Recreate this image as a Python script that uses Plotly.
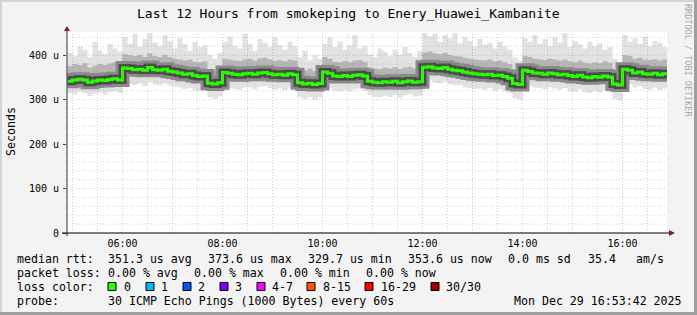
import plotly.graph_objects as go
import pandas as pd

# ---------------- data ----------------
title = "Last 12 Hours from smokeping to Enery_Huawei_Kambanite"
start_time = "2025-12-29 04:54:00"
range_start = "2025-12-29 04:53:24"
range_end = "2025-12-29 16:53:24"
step = "6min"

# median RTT (microseconds), one value per 6-minute step
median = [
    341, 344, 346, 344, 339, 342, 344, 343, 345, 347, 344,
    371, 370, 367, 368, 366, 372, 367, 366, 368, 364, 362, 360, 357, 358, 354, 352, 353,
    337, 335, 338,
    361, 359, 357, 356, 358, 359, 357, 360, 361, 358, 356, 357, 355, 358, 356,
    338, 335, 337, 334, 336,
    362, 359, 353, 352, 354, 352, 355, 356, 353,
    341, 339, 338, 340, 339, 341, 338, 340, 342, 339, 340,
    373, 374, 371, 370, 372, 368, 366, 365, 362, 360, 358, 357, 356, 357, 354, 355, 352, 348,
    336, 334,
    366, 363, 360, 359, 357, 360, 358, 356, 357, 354, 352, 355, 351, 349, 352, 350, 353, 351,
    335, 333,
    368, 366, 360, 362, 358, 357, 359, 356, 358,
]
# smoke: highest ping per step
smoke_max = [
    405, 398, 420, 412, 395, 430, 410, 402, 425, 415, 408,
    440, 425, 448, 418, 436, 450, 428, 420, 445, 432, 415, 438, 425, 410, 430, 418, 422,
    400, 392, 405,
    430, 442, 420, 415, 448, 425, 410, 436, 428, 418, 440, 422, 412, 430, 420,
    395, 410, 388, 400, 392,
    425, 440, 418, 430, 412, 422, 445, 415, 420,
    402, 395, 415, 408, 398, 412, 400, 418, 405, 396, 410,
    450, 442, 448, 430, 445, 438, 450, 426, 440, 432, 418, 436, 424, 428, 415, 430, 420, 412,
    395, 388,
    438, 430, 445, 425, 436, 420, 440, 428, 450, 418, 432, 424, 415, 430, 420, 426, 412, 418,
    392, 385,
    445, 430, 438, 425, 442, 420, 432, 428, 418,
]
# smoke: upper dense part
smoke_hi = [
    375, 380, 378, 382, 372, 376, 380, 378, 381, 384, 378,
    402, 400, 398, 400, 396, 404, 398, 396, 400, 395, 392, 390, 388, 390, 385, 384, 386,
    368, 365, 370,
    392, 390, 388, 387, 390, 392, 388, 393, 394, 390, 387, 389, 386, 390, 388,
    368, 366, 370, 364, 367,
    396, 392, 385, 384, 387, 384, 388, 389, 385,
    372, 370, 369, 372, 370, 373, 369, 372, 374, 370, 371,
    406, 408, 404, 402, 405, 400, 398, 397, 394, 392, 390, 389, 388, 390, 386, 388, 384, 380,
    368, 365,
    398, 396, 392, 391, 389, 392, 390, 388, 390, 386, 384, 388, 383, 381, 384, 382, 386, 383,
    366, 363,
    400, 398, 392, 394, 390, 389, 391, 388, 390,
]
# smoke: lower dense part
smoke_lo = [
    329, 331, 333, 331, 326, 329, 331, 330, 332, 334, 331,
    356, 355, 352, 354, 351, 357, 352, 351, 353, 349, 348, 346, 343, 344, 340, 338, 339,
    323, 321, 324,
    347, 345, 343, 342, 344, 345, 343, 346, 347, 344, 342, 343, 341, 344, 342,
    324, 321, 323, 320, 322,
    348, 345, 339, 338, 340, 338, 341, 342, 339,
    327, 325, 324, 326, 325, 327, 324, 326, 328, 325, 326,
    358, 360, 357, 356, 358, 354, 352, 351, 348, 346, 344, 343, 342, 343, 340, 341, 338, 334,
    322, 320,
    352, 349, 346, 345, 343, 346, 344, 342, 343, 340, 338, 341, 337, 335, 338, 336, 339, 337,
    321, 319,
    354, 352, 346, 348, 344, 343, 345, 342, 344,
]
# smoke: lowest ping per step
smoke_min = [
    315, 312, 318, 314, 308, 313, 316, 311, 317, 319, 314,
    338, 335, 333, 336, 330, 340, 334, 332, 336, 331, 329, 327, 324, 326, 321, 320, 322,
    305, 302, 307,
    330, 326, 324, 322, 327, 328, 323, 329, 330, 326, 322, 325, 321, 327, 323,
    306, 302, 305, 300, 304,
    330, 326, 320, 318, 322, 319, 323, 325, 320,
    310, 306, 305, 309, 306, 311, 304, 309, 312, 307, 308,
    340, 343, 338, 336, 341, 335, 332, 333, 328, 326, 324, 325, 322, 326, 320, 323, 318, 315,
    303, 300,
    335, 330, 327, 326, 323, 328, 325, 322, 326, 320, 318, 323, 317, 315, 320, 316, 321, 318,
    302, 298,
    337, 334, 327, 330, 324, 322, 327, 321, 325,
]

y_tickvals = [0, 100, 200, 300, 400]
y_ticktext = ["0", "100 u", "200 u", "300 u", "400 u"]
x_label_hours = ["06:00", "08:00", "10:00", "12:00", "14:00", "16:00"]

legend_rows = [
    [("median rtt:", 16), ("351.3 us avg", 107), ("373.6 us max", 207), ("329.7 us min", 307),
     ("353.6 us now", 407), ("0.0 ms sd", 507), ("35.4", 587), ("am/s", 635)],
    [("packet loss:", 16), ("0.00 % avg", 107), ("0.00 % max", 193), ("0.00 % min", 279),
     ("0.00 % now", 365)],
    [("loss color:", 16)],
    [("probe:", 16), ("30 ICMP Echo Pings (1000 Bytes) every 60s", 107),
     ("Mon Dec 29 16:53:42 2025", 513)],
]
row_y = [258.5, 273, 286.5, 301]
loss_labels = ["0", "1", "2", "3", "4-7", "8-15", "16-29", "30/30"]
loss_colors = ["#26ff00", "#00b8ff", "#0059ff", "#7e00ff", "#ff00ff", "#ff5500", "#ff0000", "#a10000"]
loss_box_x = [108, 146, 183, 220, 257, 307, 365, 431]
loss_text_x = [123, 160, 197, 234, 271, 322, 380, 445]

# ---------------- figure ----------------
W, H = 697, 315
L, R, T, B = 67, 30, 32, 82
PW, PH = W - L - R, H - T - B
FONT = "DejaVu Sans Mono"


def fx(px):
    return (px - L) / PW


def fy(py):
    return (H - B - py) / PH


times = pd.date_range(start_time, periods=len(median) + 1, freq=step)


def ext(a):
    return list(a) + [a[-1]]


fig = go.Figure()
common = dict(x=times, mode="lines", line_shape="hv", hoverinfo="skip")
fig.add_trace(go.Scatter(y=ext(smoke_min), line=dict(width=0, color="#e6e6e6"), **common))
fig.add_trace(go.Scatter(y=ext(smoke_max), line=dict(width=0, color="#e6e6e6"),
                         fill="tonexty", fillcolor="#e2e2e2", **common))
fig.add_trace(go.Scatter(y=ext(smoke_lo), line=dict(width=0, color="#c0c0c0"), **common))
fig.add_trace(go.Scatter(y=ext(smoke_hi), line=dict(width=0, color="#c0c0c0"),
                         fill="tonexty", fillcolor="#b6b6b6", **common))
fig.add_trace(go.Scatter(y=ext(median), line=dict(width=14, color="#8a8a8a"), **common))
fig.add_trace(go.Scatter(y=ext(median), line=dict(width=8, color="#4a4a4a"), **common))
fig.add_trace(go.Scatter(y=ext(median), line=dict(width=3, color="#26ff00"), **common))

MAJOR = "rgba(222,80,80,0.38)"
MINOR = "rgba(130,130,130,0.35)"
shapes = []
# grid (drawn above the smoke, semi-transparent like rrdtool)
grid_times = pd.date_range("2025-12-29 05:00", "2025-12-29 16:30", freq="30min")
for t in grid_times:
    major = t.minute == 0
    shapes.append(dict(type="line", xref="x", yref="paper", x0=t, x1=t, y0=0, y1=1,
                       layer="above",
                       line=dict(width=1, dash="1px,2px", color=MAJOR if major else MINOR)))
for v in range(20, 452, 20):
    major = v % 100 == 0
    shapes.append(dict(type="line", xref="paper", yref="y", x0=0, x1=1, y0=v, y1=v,
                       layer="above",
                       line=dict(width=1, dash="1px,2px", color=MAJOR if major else MINOR)))
# axes with arrows
shapes.append(dict(type="line", xref="paper", yref="paper", x0=fx(67), x1=fx(67), y0=fy(236), y1=fy(30),
                   line=dict(width=1, color="#333333"), layer="above"))
shapes.append(dict(type="line", xref="paper", yref="paper", x0=fx(62), x1=fx(670), y0=fy(233), y1=fy(233),
                   line=dict(width=1, color="#000000"), layer="above"))
shapes.append(dict(type="path", xref="paper", yref="paper",
                   path=f"M {fx(64)} {fy(31)} L {fx(70)} {fy(31)} L {fx(67)} {fy(26)} Z",
                   fillcolor="#8b1a1a", line=dict(width=0), layer="above"))
shapes.append(dict(type="path", xref="paper", yref="paper",
                   path=f"M {fx(669)} {fy(230)} L {fx(669)} {fy(236)} L {fx(675)} {fy(233)} Z",
                   fillcolor="#8b1a1a", line=dict(width=0), layer="above"))
# canvas border shading
shapes.append(dict(type="rect", xref="paper", yref="paper", x0=fx(0), x1=fx(2), y0=fy(315), y1=fy(0),
                   fillcolor="#d4d4d4", line=dict(width=0)))
shapes.append(dict(type="rect", xref="paper", yref="paper", x0=fx(0), x1=fx(697), y0=fy(2), y1=fy(0),
                   fillcolor="#d4d4d4", line=dict(width=0)))
shapes.append(dict(type="rect", xref="paper", yref="paper", x0=fx(694), x1=fx(697), y0=fy(315), y1=fy(0),
                   fillcolor="#9e9e9e", line=dict(width=0)))
shapes.append(dict(type="rect", xref="paper", yref="paper", x0=fx(0), x1=fx(697), y0=fy(315), y1=fy(312),
                   fillcolor="#9e9e9e", line=dict(width=0)))
# loss color boxes
for bx, c in zip(loss_box_x, loss_colors):
    shapes.append(dict(type="rect", xref="paper", yref="paper", x0=fx(bx), x1=fx(bx + 8),
                       y0=fy(290.5), y1=fy(282.5), fillcolor=c, line=dict(width=1, color="#000000")))

annotations = []
annotations.append(dict(text=title, x=fx(348), y=fy(13.5), xref="paper", yref="paper",
                        xanchor="center", yanchor="middle", showarrow=False,
                        font=dict(family=FONT, size=13, color="#000000")))
annotations.append(dict(text="Seconds", x=fx(10.5), y=fy(131.5), xref="paper", yref="paper",
                        xanchor="center", yanchor="middle", showarrow=False, textangle=-90,
                        font=dict(family=FONT, size=11.6, color="#000000")))
annotations.append(dict(text="RRDTOOL / TOBI OETIKER", x=fx(688), y=fy(60), xref="paper", yref="paper",
                        xanchor="center", yanchor="middle", showarrow=False, textangle=90,
                        font=dict(family=FONT, size=8.5, color="#a8a8a8")))
for row, yy in zip(legend_rows, row_y):
    for txt, xx in row:
        annotations.append(dict(text=txt, x=fx(xx - 1), y=fy(yy), xref="paper", yref="paper",
                                xanchor="left", yanchor="middle", showarrow=False,
                                font=dict(family=FONT, size=11.6, color="#000000")))
for txt, xx in zip(loss_labels, loss_text_x):
    annotations.append(dict(text=txt, x=fx(xx - 1), y=fy(row_y[2]), xref="paper", yref="paper",
                            xanchor="left", yanchor="middle", showarrow=False,
                            font=dict(family=FONT, size=11.6, color="#000000")))

hour_ticks = pd.date_range("2025-12-29 05:00", "2025-12-29 16:00", freq="1h")
hour_text = [t.strftime("%H:%M") if t.strftime("%H:%M") in x_label_hours else "" for t in hour_ticks]

fig.update_layout(
    width=W, height=H, margin=dict(l=L, r=R, t=T, b=B, pad=0),
    paper_bgcolor="#f3f3f3", plot_bgcolor="#ffffff", showlegend=False,
    font=dict(family=FONT, color="#000000"),
    xaxis=dict(range=[range_start, range_end], tickvals=list(hour_ticks), ticktext=hour_text,
               showgrid=False, zeroline=False, showline=False, ticks="",
               ticklabelstandoff=3, tickfont=dict(family=FONT, size=10, color="#000000"),
               fixedrange=True),
    yaxis=dict(range=[0, 452], tickvals=y_tickvals, ticktext=y_ticktext,
               showgrid=False, zeroline=False, showline=False, ticks="outside", ticklen=3,
               tickcolor="#444444", ticklabelstandoff=2,
               tickfont=dict(family=FONT, size=10, color="#000000"), fixedrange=True),
    shapes=shapes, annotations=annotations,
)

fig.write_html("out.html")
